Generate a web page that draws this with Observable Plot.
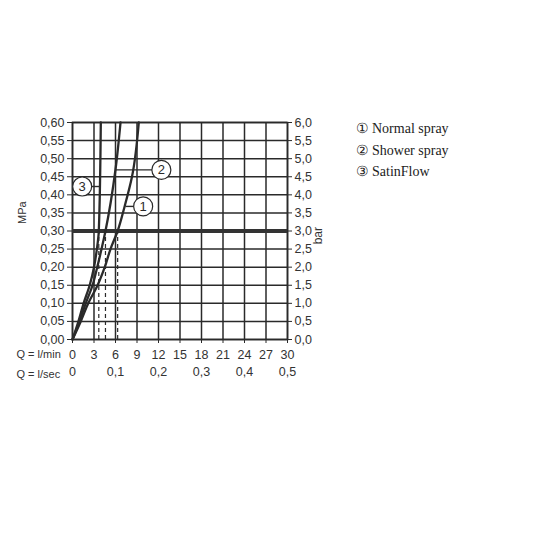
<!DOCTYPE html>
<html>
<head>
<meta charset="utf-8">
<script src="https://cdn.jsdelivr.net/npm/d3@7"></script>
<script src="https://cdn.jsdelivr.net/npm/@observablehq/plot@0.6"></script>
<style>
  html, body { margin: 0; padding: 0; background: #fff; }
  #chart { width: 536px; height: 536px; }
</style>
</head>
<body>
<div id="chart"></div>
<script>
// Pressure (MPa) sample levels and flow (l/min) readings for each curve
const curve1P = [0, 0.05, 0.10, 0.15, 0.20, 0.25, 0.30, 0.37, 0.45, 0.60];
const curve1Q = [0, 1.15, 2.2, 3.5, 4.5, 5.3, 6.3, 7.3, 8.3, 9.25];
const curve2P = [0, 0.05, 0.10, 0.15, 0.20, 0.25, 0.30, 0.47, 0.60];
const curve2Q = [0, 0.97, 1.85, 2.8, 3.45, 4.05, 4.6, 6.0, 6.7];
const curve3P = [0, 0.05, 0.10, 0.15, 0.20, 0.25, 0.30, 0.60];
const curve3Q = [0, 0.83, 1.55, 2.4, 3.0, 3.4, 3.67, 3.95];

// Flow at 0.3 MPa (dashed markers)
const refPressure = 0.30;
const dashedQ = [3.67, 4.6, 6.3];

// Callouts
const calloutIds = ["1", "2", "3"];
const calloutP = [0.368, 0.469, 0.423];
const calloutCurveQ = [7.4, 6.0, 3.8];
const calloutLabelQ = [9.86, 12.4, 1.35];

// Legend
const legendLabels = ["① Normal spray", "② Shower spray", "③ SatinFlow"];

// Ticks
const xTicksMin = d3.range(0, 31, 3);
const xTicksSec = [0, 6, 12, 18, 24, 30];
const xTickSecLabels = ["0", "0,1", "0,2", "0,3", "0,4", "0,5"];
const yTicks = d3.range(0, 0.601, 0.05).map(v => +v.toFixed(2));

const toRows = (P, Q, id) => P.map((p, i) => ({p, q: Q[i], id}));
const curves = [
  ...toRows(curve1P, curve1Q, "1"),
  ...toRows(curve2P, curve2Q, "2"),
  ...toRows(curve3P, curve3Q, "3")
];
const callouts = calloutIds.map((id, i) => ({id, p: calloutP[i], q1: calloutCurveQ[i], q2: calloutLabelQ[i]}));

const comma = (v, n) => v.toFixed(n).replace(".", ",");
const ink = "#2a2a2a";
const font = "Liberation Sans, Arial, sans-serif";
const serif = "Liberation Serif, Times New Roman, serif";

const legendMarks = legendLabels.map((t, i) =>
  Plot.text([t], {frameAnchor: "top-right", dx: 68, dy: 1 + i * 21.5, textAnchor: "start", fontFamily: serif, fontSize: 14, fill: "#222"})
);

const plot = Plot.plot({
  width: 536,
  height: 536,
  marginLeft: 72,
  marginRight: 249,
  marginTop: 122,
  marginBottom: 197,
  style: {fontFamily: font, fontSize: "12.5px", color: "#333", background: "#fff"},
  x: {domain: [0, 30]},
  y: {domain: [0, 0.6]},
  marks: [
    Plot.gridX(xTicksMin, {stroke: ink, strokeOpacity: 1, strokeWidth: 1.5}),
    Plot.gridY(yTicks, {stroke: ink, strokeOpacity: 1, strokeWidth: 1.5}),
    Plot.frame({stroke: ink, strokeWidth: 1.6}),
    Plot.ruleY([refPressure], {stroke: "#333", strokeWidth: 4}),
    Plot.ruleX(dashedQ, {y1: 0, y2: refPressure, stroke: ink, strokeWidth: 1.2, strokeDasharray: "4,3"}),
    Plot.line(curves, {x: "q", y: "p", z: "id", stroke: ink, strokeWidth: 2.3, curve: "monotone-y"}),
    Plot.link(callouts, {x1: "q1", x2: "q2", y1: "p", y2: "p", stroke: ink, strokeWidth: 1.4}),
    Plot.dot(callouts, {x: "q2", y: "p", r: 9.5, fill: "white", stroke: ink, strokeWidth: 1.2}),
    Plot.text(callouts, {x: "q2", y: "p", text: "id", fontSize: 13, fill: ink}),
    Plot.axisY(yTicks, {anchor: "left", tickSize: 5, tickPadding: 3, tickFormat: d => comma(d, 2), label: null, stroke: ink}),
    Plot.axisY(yTicks, {anchor: "right", tickSize: 4, tickPadding: 3, tickFormat: d => comma(d * 10, 1), label: null, stroke: ink}),
    Plot.axisX(xTicksMin, {anchor: "bottom", tickSize: 4, tickPadding: 7, tickFormat: d => String(d), label: null, stroke: ink}),
    Plot.axisX(xTicksSec, {anchor: "bottom", tickSize: 0, tickPadding: 28, tickFormat: d => xTickSecLabels[xTicksSec.indexOf(d)], label: null}),
    Plot.text(["Q = l/min"], {frameAnchor: "bottom-left", dx: -56, dy: 18, textAnchor: "start", fill: "#333", fontSize: 11}),
    Plot.text(["Q = l/sec"], {frameAnchor: "bottom-left", dx: -56, dy: 38, textAnchor: "start", fill: "#333", fontSize: 11}),
    Plot.text(["MPa"], {frameAnchor: "left", dx: -50, dy: -7, rotate: -90, fill: "#333", fontSize: 11}),
    Plot.text(["bar"], {frameAnchor: "right", dx: 31, dy: -4, rotate: -90, fill: "#333", fontSize: 12}),
    ...legendMarks
  ]
});
document.getElementById("chart").appendChild(plot);
</script>
</body>
</html>
